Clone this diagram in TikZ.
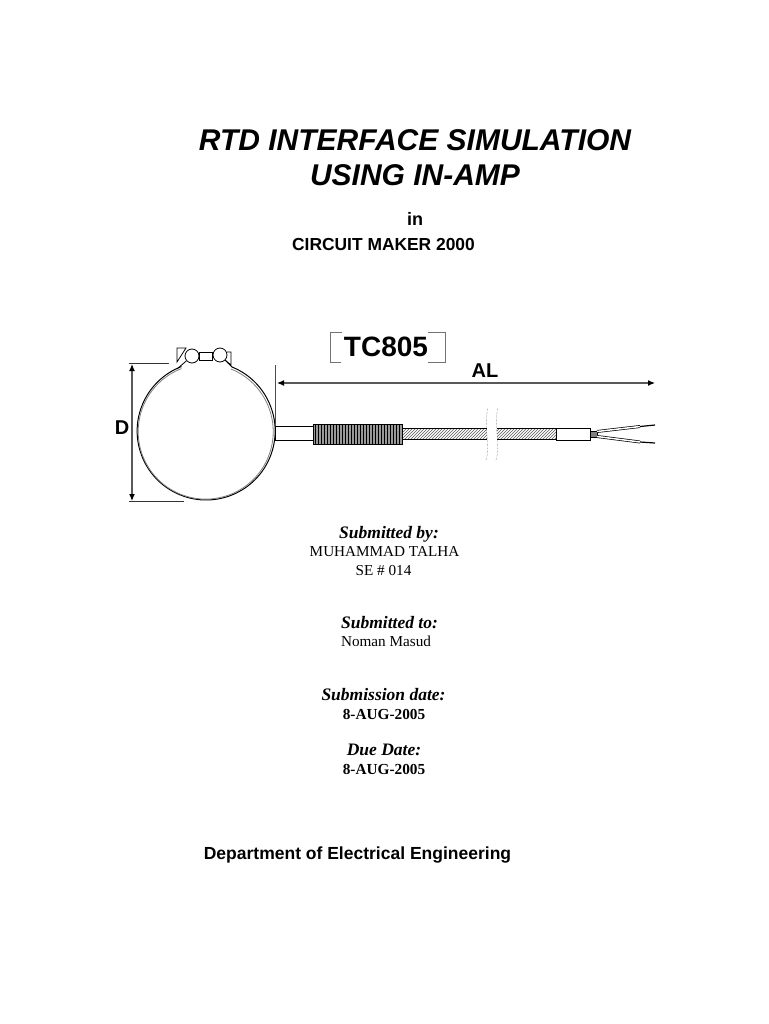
\documentclass[tikz,border=0pt]{standalone}
\usepackage{fontspec}
\setmainfont{Liberation Serif}
\setsansfont{Liberation Sans}
\usetikzlibrary{arrows.meta,positioning,patterns}
\colorlet{dimgray}{black!65}
\tikzset{
  titletext/.style={font=\fontsize{30}{30}\selectfont\sffamily\bfseries\itshape},
  headtext/.style={font=\fontsize{17.4}{17.4}\selectfont\sffamily\bfseries},
  captext/.style={font=\fontsize{17.5}{17.5}\selectfont\rmfamily\bfseries\itshape},
  plaintext/.style={font=\fontsize{15.2}{15.2}\selectfont\rmfamily},
  datetext/.style={font=\fontsize{15.3}{15.3}\selectfont\rmfamily\bfseries},
  dimtext/.style={font=\fontsize{20}{20}\selectfont\sffamily\bfseries},
  dimline/.style={draw=dimgray,line width=1.2pt,{Latex[length=7pt,width=6pt,black]}-{Latex[length=7pt,width=6pt,black]}},
}
\begin{document}
\begin{tikzpicture}[x=1pt,y=-1pt]%
        \useasboundingbox (0,0) rectangle (768,1024); %%
        \node[titletext] (title1) at (415,140) {RTD INTERFACE SIMULATION}; %%
        \node[titletext] (title2) at (415,175) {USING IN-AMP}; %%
        \node[font=\fontsize{18}{18}\selectfont\sffamily\bfseries] (in) at (415,219) {in}; %%
        \node[headtext] (maker) at (383.5,245) {CIRCUIT MAKER 2000}; %%
        % clamp
        \draw[line width=1pt] (232,367) arc[start angle=-68,delta angle=317,radius=69]; %%
        \draw[line width=.8pt,black!50] (231,369) arc[start angle=-68,delta angle=317,radius=67.5]; %%
        \draw[thick] (177,348) -- (177,362) -- (186,348) -- cycle; %%
        \node[draw,thick,minimum width=13pt,minimum height=8pt,inner sep=0pt] (link) at (206,356) {}; %%
        \node[draw,thick,circle,minimum size=14pt,inner sep=0pt,fill=white] (bolt1) at (192,356) {}; %%
        \node[draw,thick,circle,minimum size=14pt,inner sep=0pt,fill=white] (bolt2) at (220,355) {}; %%
        \draw[thick] (227,352) -- (231,352) -- (231,365) -- (225,360); %%
        \coordinate (band1) at (177,369); %%
        \coordinate (band2) at (232,367); %%
        \draw[thick] (band1) -- (bolt1); %%
        \draw[thick] (band2) -- (bolt2); %%
        % probe
        \node[draw,thick,minimum width=38pt,minimum height=14pt,inner sep=0pt] (tube) at (294,433) {}; %%
        \node[draw,thick,fill=black!40,postaction={pattern=vertical lines},minimum width=89pt,minimum height=20pt,inner sep=0pt] (coil) at (357.5,434) {}; %%
        \node[draw,pattern=north east lines,pattern color=black!65,minimum width=154pt,minimum height=11pt,inner sep=0pt] (cable) at (479,433.5) {}; %%
        \node[draw,thick,fill=white,minimum width=34pt,minimum height=12pt,inner sep=0pt] (sleeve) at (573,434) {}; %%
        \node[draw,fill=black!50,minimum width=7pt,minimum height=6pt,inner sep=0pt] (split) at (594,434) {}; %%
        \fill[white] (487,426) rectangle (497,442); %%
        \draw[densely dotted,black!70] (488,408) .. controls (483,425) and (491,445) .. (486,460); %%
        \draw[densely dotted,black!70] (498,408) .. controls (493,425) and (501,445) .. (496,460); %%
        \coordinate (wire0a) at (597,431.5); %%
        \coordinate (wire0b) at (597,436.5); %%
        \coordinate (wire1) at (640,426.5); %%
        \coordinate (wire2) at (640,442); %%
        \coordinate (tip1) at (655,425); %%
        \coordinate (tip2) at (655,443); %%
        \draw[double=white,double distance=1.5pt,line width=.7pt] (wire0a) -- (wire1); %%
        \draw[double=white,double distance=1.5pt,line width=.7pt] (wire0b) -- (wire2); %%
        \draw[line width=1.2pt] (wire1) -- (tip1); %%
        \draw[line width=1.2pt] (wire2) -- (tip2); %%
        % dimensions
        \coordinate (d1) at (132,364); %%
        \coordinate (d2) at (132,501); %%
        \coordinate (al1) at (277,383); %%
        \coordinate (al2) at (655,383); %%
        \coordinate (tick1) at (275,365); %%
        \coordinate (tick2) at (275,426); %%
        \draw[dimline] (d1)--(d2); %%
        \draw[dimline] (al1)--(al2); %%
        \draw[black!70] (tick1)--(tick2); %%
        \draw[black!80] (129,363.5)--(169,363.5); %%
        \draw[black!80] (129,501.5)--(184,501.5); %%
        \node[dimtext] (dlabel) at (122,428) {D}; %%
        \node[dimtext] (allabel) at (485,371) {AL}; %%
        \node[font=\fontsize{28}{28}\selectfont\sffamily\bfseries] (tc) at (386,347) {TC805}; %%
        \draw[black!55] (342,332) -- (330,332) -- (330,362) -- (341,362); %%
        \draw[black!55] (428,332) -- (445,332) -- (445,362) -- (428,362); %%
        % text block
        \node[captext] (byhead) at (389,534) {Submitted by:}; %%
        \node[plaintext] (byname) at (384.5,552) {MUHAMMAD TALHA}; %%
        \node[plaintext] (byno) at (383.5,571) {SE \# 014}; %%
        \node[captext] (tohead) at (389.5,623) {Submitted to:}; %%
        \node[plaintext] (toname) at (386,641) {Noman Masud}; %%
        \node[captext] (subhead) at (383.5,695) {Submission date:}; %%
        \node[datetext] (subdate) at (384,714) {8-AUG-2005}; %%
        \node[captext] (duehead) at (384,750) {Due Date:}; %%
        \node[datetext] (duedate) at (384,769) {8-AUG-2005}; %%
        \node[font=\fontsize{17.5}{17.5}\selectfont\sffamily\bfseries] (dept) at (357.5,855) {Department of Electrical Engineering}; %%
\end{tikzpicture}
\end{document}
